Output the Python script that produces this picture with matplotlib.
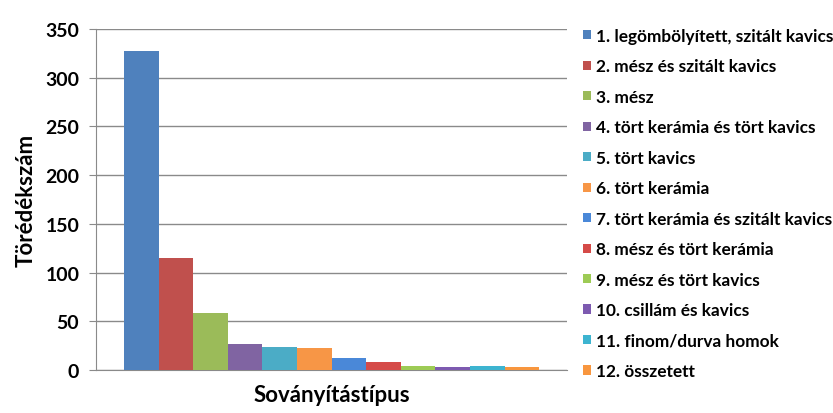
import numpy as np
import matplotlib
matplotlib.use('Agg')
import matplotlib.pyplot as plt
from matplotlib.patches import Patch

plt.rcParams['font.family'] = ['Lato', 'DejaVu Sans']

labels = ['1. legömbölyített, szitált kavics', '2. mész és szitált kavics', '3. mész',
          '4. tört kerámia és tört kavics', '5. tört kavics', '6. tört kerámia',
          '7. tört kerámia és szitált kavics', '8. mész és tört kerámia',
          '9. mész és tört kavics', '10. csillám és kavics', '11. finom/durva homok',
          '12. összetett']
values = [327, 115, 59, 27, 24, 23, 12, 8, 4, 3, 4, 3]
colors = ['#4F81BD', '#C0504D', '#9BBB59', '#8064A2', '#4BACC6', '#F79646',
          '#4A88D8', '#D54A48', '#9DCB55', '#7D5AB0', '#3DB4D0', '#F8963E']

fig = plt.figure(figsize=(8.33, 4.14), dpi=100)
ax = fig.add_axes([96/833, 43/414, 471/833, 341/414])

n = len(values)
w = 34.6/471
for i in range(n):
    ax.bar(-n/2*w + (i+0.5)*w, values[i], width=w, color=colors[i], zorder=3)

ax.set_xlim(-0.5, 0.5)
ax.set_ylim(0, 350)
ax.set_yticks(np.arange(0, 351, 50))
ax.set_xticks([])
ax.yaxis.grid(True, color='#8a8a8a', linewidth=1)
ax.set_axisbelow(True)
for s in ['top', 'right']:
    ax.spines[s].set_visible(False)
for s in ['left', 'bottom']:
    ax.spines[s].set_color('#8a8a8a')
ax.tick_params(axis='y', direction='out', length=5, color='#8a8a8a', labelsize=14, pad=7)
for t in ax.get_yticklabels():
    t.set_fontweight('bold')
ax.set_ylabel('Törédékszám', fontsize=16, fontweight='bold', labelpad=6)
ax.set_xlabel('Soványítástípus', fontsize=16, fontweight='bold', labelpad=10)

handles = [Patch(facecolor=c, edgecolor='none') for c in colors]
leg = fig.legend(handles, labels, loc='upper left', bbox_to_anchor=(583/833, 1 - 29/414),
                 frameon=False, fontsize=12.4, handlelength=0.45, handleheight=0.45,
                 handletextpad=0.3, labelspacing=0.84, borderaxespad=0, borderpad=0)
for t in leg.get_texts():
    t.set_fontweight('bold')

fig.savefig('out.png', dpi=100)
